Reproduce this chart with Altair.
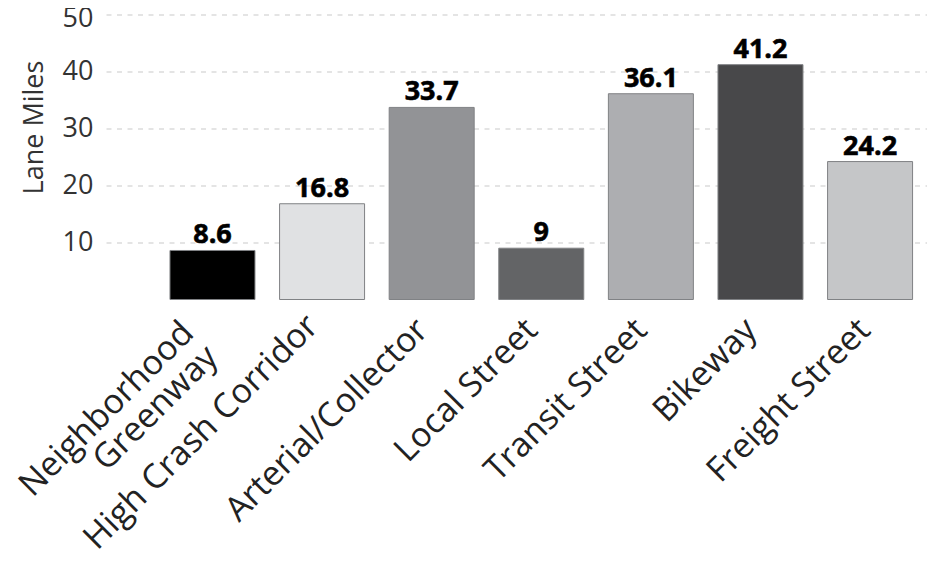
import altair as alt
import pandas as pd

categories = ["Neighborhood\nGreenway", "High Crash Corridor", "Arterial/Collector", "Local Street", "Transit Street", "Bikeway", "Freight Street"]
values = [8.6, 16.8, 33.7, 9, 36.1, 41.2, 24.2]
colors = ["#000000", "#e0e1e3", "#929396", "#636466", "#adaeb1", "#48484a", "#c5c6c8"]
y_ticks = [10, 20, 30, 40, 50]

df = pd.DataFrame({"category": categories, "value": values})
font = "Open Sans"
two_line = "indexof(datum.value, 'Greenway') >= 0"
high_crash = "datum.value == 'High Crash Corridor'"

x = alt.X("category:N", sort=categories, title=None,
          scale=alt.Scale(paddingInner=0.2245, paddingOuter=0.3577, align=0.816),
          axis=alt.Axis(labelAngle=-45, labelAlign="right", labelBaseline="middle", labelFont=font,
                        labelFontSize=34, labelColor="#222222", ticks=False, domain=False, grid=False,
                        labelPadding={"condition": [{"test": two_line, "value": 28},
                                                    {"test": high_crash, "value": 21}],
                                      "value": 25},
                        labelOffset={"condition": [{"test": two_line, "value": -24},
                                                   {"test": "datum.value == 'Freight Street'", "value": -5}],
                                     "value": -9},
                        labelLimit=0, labelOverlap=False, labelLineHeight=34,
                        labelExpr="split(datum.label, '\\n')"))
y = alt.Y("value:Q", title="Lane Miles",
          scale=alt.Scale(domain=[0, 50], nice=False),
          axis=alt.Axis(values=y_ticks, ticks=False, domain=False, labelFont=font, labelFontSize=27,
                        labelColor="#333333", labelPadding=13, titleFont=font, titleFontSize=27,
                        labelOffset={"condition": {"test": "datum.value == 50", "value": 4}, "value": 0},
                        titleFontWeight="normal", titleColor="#333333", titleX=-58, titleY=112.5,
                        grid=True, gridColor="#c9c9c9", gridDash=[5, 5.5], gridWidth=1))

bars = alt.Chart(df).mark_bar(stroke="#808285", strokeWidth=1, size=85).encode(
    x=x, y=y,
    color=alt.Color("category:N", sort=categories, legend=None,
                    scale=alt.Scale(domain=categories, range=colors)))
labels = alt.Chart(df).mark_text(font=font, fontSize=27, fontWeight="bold", color="#000000",
                                 stroke="#000000", strokeWidth=0.6, baseline="bottom", dy=-1).encode(
    x=alt.X("category:N", sort=categories),
    y=alt.Y("value:Q"),
    text=alt.Text("value:Q"))

chart = (bars + labels).properties(
    width=821, height=285,
    padding={"left": 98, "top": 6.5, "right": 0, "bottom": 254},
    autosize=alt.AutoSizeParams(type="none"),
    background="#ffffff"
).configure_view(stroke=None)

chart.save("out.html", embed_options={"renderer": "svg", "actions": False})
